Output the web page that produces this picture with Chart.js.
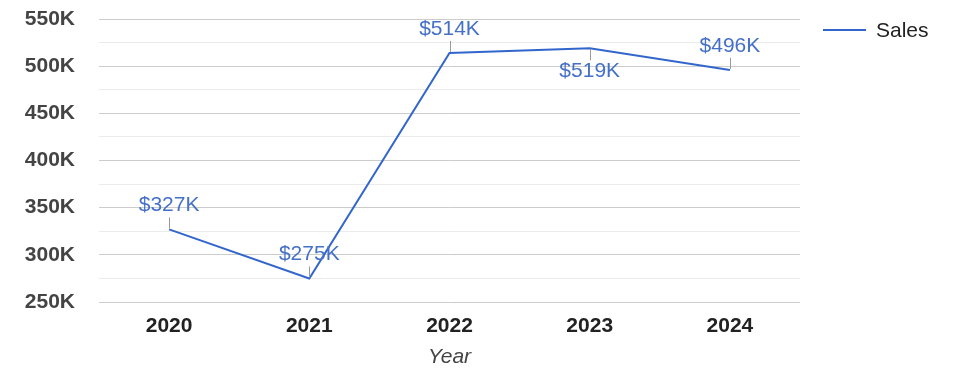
<!DOCTYPE html>
<html>
<head>
<meta charset="utf-8">
<script src="https://cdn.jsdelivr.net/npm/chart.js@4.4.1/dist/chart.umd.min.js"></script>
<style>
html,body{margin:0;padding:0;background:#fff;}
#wrap{width:975px;height:378px;position:relative;}
</style>
</head>
<body>
<div id="wrap"><canvas id="c" width="975" height="378"></canvas></div>
<script>
const years = ['2020', '2021', '2022', '2023', '2024'];
const sales = [327, 275, 514, 519, 496];
const seriesName = 'Sales';
const axisTitle = 'Year';
const yMin = 250, yMax = 550, yStep = 25;

const FONT = "'Liberation Sans', Arial, sans-serif";
const LINE_COLOR = '#3366cc';
const LABEL_COLOR = '#4570c8';

const labelPlugin = {
  id: 'labels',
  afterDatasetsDraw(chart) {
    const ctx = chart.ctx;
    const meta = chart.getDatasetMeta(0);
    const area = chart.chartArea;
    ctx.save();
    ctx.font = '21px ' + FONT;
    ctx.textAlign = 'center';
    ctx.textBaseline = 'middle';
    meta.data.forEach((pt, i) => {
      const v = chart.data.datasets[0].data[i];
      const txt = '$' + v + 'K';
      let cy = pt.y - 24;
      let above = true;
      if (cy - 8 < area.top) { above = false; cy = pt.y + 23; }
      ctx.strokeStyle = '#9a9a9a';
      ctx.lineWidth = 1;
      ctx.beginPath();
      const x = Math.round(pt.x) + 0.5;
      if (above) { ctx.moveTo(x, pt.y - 1); ctx.lineTo(x, pt.y - 12); }
      else { ctx.moveTo(x, pt.y + 1); ctx.lineTo(x, pt.y + 12); }
      ctx.stroke();
      ctx.fillStyle = LABEL_COLOR;
      ctx.fillText(txt, pt.x, cy);
    });
    // legend
    const lx = area.right + 23, ly = area.top + 11;
    ctx.strokeStyle = LINE_COLOR;
    ctx.lineWidth = 2;
    ctx.beginPath();
    ctx.moveTo(lx, ly); ctx.lineTo(lx + 43, ly);
    ctx.stroke();
    ctx.fillStyle = '#222';
    ctx.textAlign = 'left';
    ctx.font = '21px ' + FONT;
    ctx.fillText(chart.data.datasets[0].label, lx + 53, ly + 1);
    ctx.restore();
  }
};

new Chart(document.getElementById('c'), {
  type: 'line',
  data: {
    labels: years,
    datasets: [{
      label: seriesName,
      data: sales,
      borderColor: LINE_COLOR,
      borderWidth: 2,
      pointRadius: 0,
      pointHoverRadius: 0,
      tension: 0,
      fill: false
    }]
  },
  options: {
    responsive: false,
    animation: false,
    layout: { padding: { left: 0, right: 175, top: 19, bottom: 0 } },
    plugins: { legend: { display: false }, tooltip: { enabled: false } },
    scales: {
      x: {
        offset: true,
        grid: { display: false, drawTicks: false },
        border: { display: false },
        ticks: { color: '#222', padding: 12, font: { family: FONT, size: 21, weight: 'bold' } },
        title: { display: true, text: axisTitle, color: '#444', padding: { top: 0, bottom: 8 },
                 font: { family: FONT, size: 21, style: 'italic' } },
        afterFit(s) { s.height = 76; s.paddingLeft = 0; s.paddingRight = 0; }
      },
      y: {
        min: yMin, max: yMax,
        grid: {
          drawTicks: false,
          color: c => (c.tick && c.tick.value % 50 === 0) ? '#cccccc' : '#ebebeb'
        },
        border: { display: false },
        ticks: {
          stepSize: yStep,
          autoSkip: false,
          padding: 24,
          color: '#444',
          font: { family: FONT, size: 21, weight: 'bold' },
          callback: v => (v % 50 === 0) ? v + 'K' : ''
        },
        afterFit(s) { s.width = 99; s.paddingTop = 0; s.paddingBottom = 0; }
      }
    }
  },
  plugins: [labelPlugin]
});
</script>
</body>
</html>
